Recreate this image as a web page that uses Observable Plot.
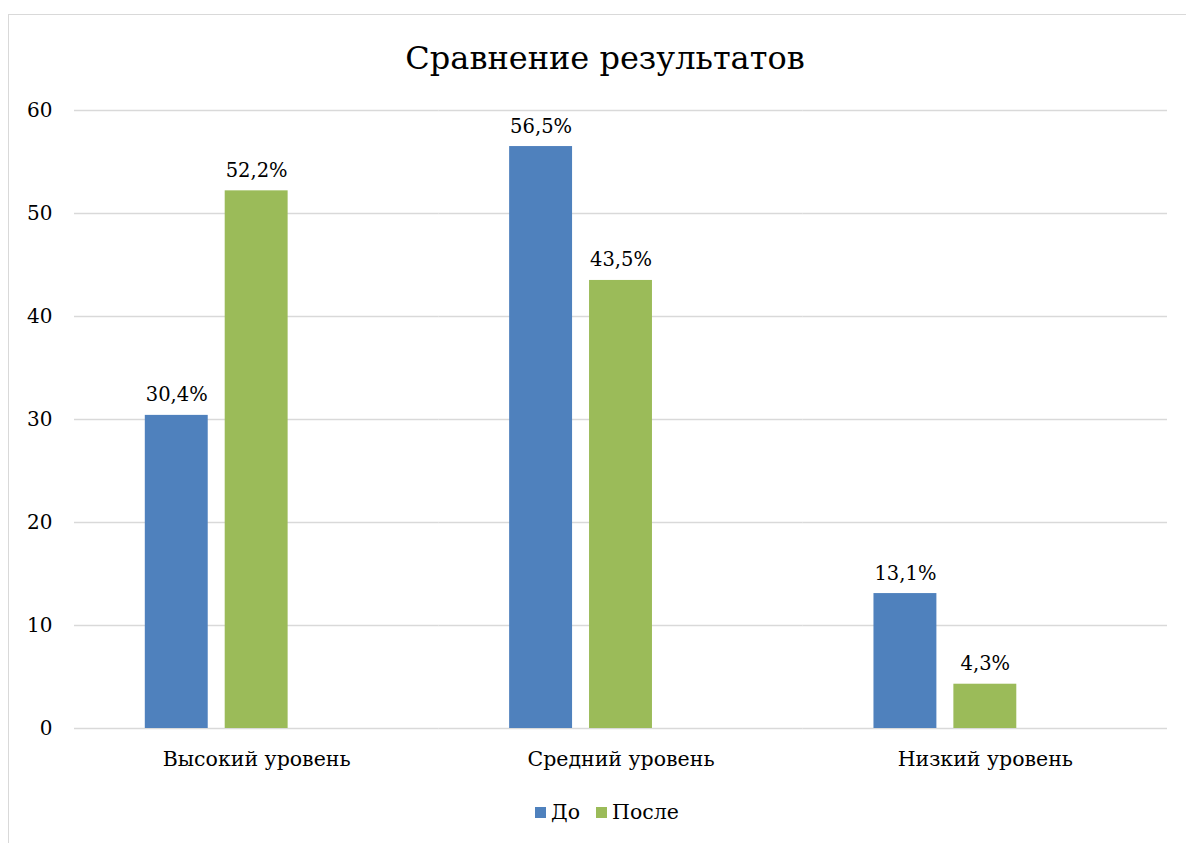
<!DOCTYPE html>
<html>
<head>
<meta charset="utf-8">
<script src="https://cdn.jsdelivr.net/npm/d3@7"></script>
<script src="https://cdn.jsdelivr.net/npm/@observablehq/plot@0.6"></script>
<style>
  html, body { margin: 0; padding: 0; background: #fff; overflow: hidden; }
  body { width: 1186px; height: 843px; position: relative; font-family: "DejaVu Serif", serif; }
  #frame { position: absolute; left: 8px; top: 14px; width: 1190px; height: 850px; border: 1px solid #d9d9d9; box-sizing: border-box; }
  #title { position: absolute; left: 8px; width: 1194px; top: 39px; text-align: center; font-size: 32px; color: #000; }
  #chart { position: absolute; left: 0; top: 0; }
  #legend { position: absolute; left: 8px; width: 1198px; top: 800px; display: flex; justify-content: center; align-items: center; font-size: 20.5px; color: #000; }
  .item { display: flex; align-items: center; margin: 0 8px; }
  .sw { width: 11px; height: 11px; margin-right: 5px; }
</style>
</head>
<body>
<div id="frame"></div>
<div id="title">Сравнение результатов</div>
<div id="chart"></div>
<div id="legend"></div>
<script>
const categories = ["Высокий уровень", "Средний уровень", "Низкий уровень"];
const seriesNames = ["До", "После"];
const before = [30.4, 56.5, 13.1];
const after = [52.2, 43.5, 4.3];
const yTicks = [0, 10, 20, 30, 40, 50, 60];
const colors = ["#4F81BD", "#9BBB59"];

const data = [];
categories.forEach((c, i) => {
  data.push({category: c, series: seriesNames[0], value: before[i]});
  data.push({category: c, series: seriesNames[1], value: after[i]});
});
const fmt = v => v.toFixed(1).replace(".", ",") + "%";

const plot = Plot.plot({
  width: 1186,
  height: 778,
  marginTop: 110,
  marginLeft: 74,
  marginRight: 19,
  marginBottom: 50,
  style: {fontFamily: "DejaVu Serif, serif", fontSize: "19px", color: "#000", background: "transparent"},
  fx: {domain: categories, padding: 0, label: null, round: false},
  x: {domain: [...seriesNames, "_"], paddingInner: 0.2125, paddingOuter: 0.886, axis: null, round: false},
  y: {domain: [0, 60], ticks: yTicks, label: null},
  color: {domain: seriesNames, range: colors},
  marks: [
    Plot.ruleY(yTicks, {stroke: "#d9d9d9", strokeWidth: 1.5, strokeOpacity: 1}),
    Plot.barY(data, {fx: "category", x: "series", y: "value", fill: "series"}),
    Plot.text(data, {fx: "category", x: "series", y: "value", text: d => fmt(d.value), lineAnchor: "bottom", dy: -14, fill: "#000", fontSize: 19.5}),
    Plot.axisY({ticks: yTicks, tickSize: 0, tickPadding: 22, fontSize: 20, tickFormat: d => String(d), label: null}),
    Plot.axisFx({anchor: "bottom", tickSize: 0, tickPadding: 23, fontSize: 20.5, label: null})
  ]
});
document.getElementById("chart").appendChild(plot);

const legend = document.getElementById("legend");
seriesNames.forEach((s, i) => {
  const it = document.createElement("div");
  it.className = "item";
  const sw = document.createElement("div");
  sw.className = "sw";
  sw.style.background = colors[i];
  const t = document.createElement("span");
  t.textContent = s;
  it.appendChild(sw); it.appendChild(t);
  legend.appendChild(it);
});
</script>
</body>
</html>
